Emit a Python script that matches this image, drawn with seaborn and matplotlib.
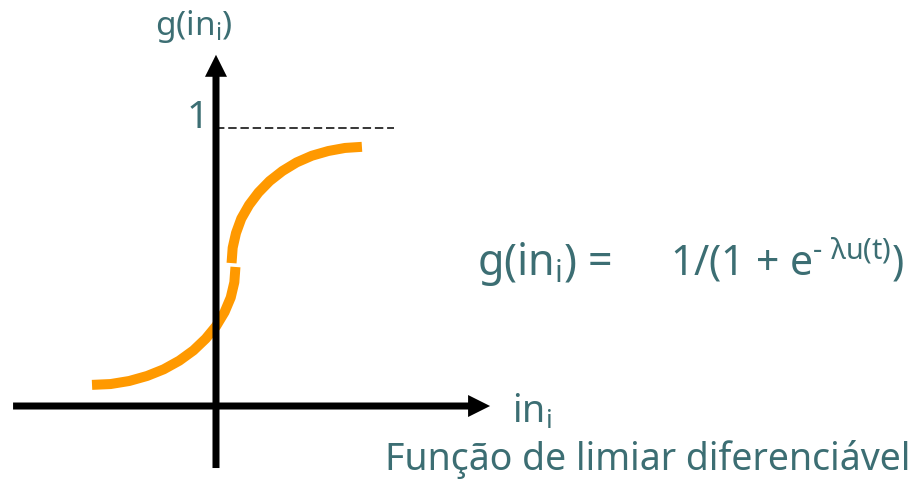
import matplotlib
matplotlib.use('Agg')
import matplotlib.pyplot as plt
import seaborn as sns
import pandas as pd

# curva (due archi); 1 = livello tratteggiato
lower_x = [-0.446, -0.379, -0.312, -0.248, -0.188, -0.132, -0.081,
           -0.037, 0.001, 0.031, 0.053, 0.066, 0.070]
lower_y = [0.076, 0.079, 0.090, 0.108, 0.132, 0.163, 0.200,
           0.242, 0.288, 0.338, 0.390, 0.445, 0.500]
upper_x = [0.056, 0.060, 0.072, 0.091, 0.119, 0.153, 0.193,
           0.239, 0.290, 0.345, 0.404, 0.464, 0.525]
upper_y = [0.514, 0.569, 0.622, 0.674, 0.723, 0.768, 0.809,
           0.845, 0.876, 0.900, 0.917, 0.928, 0.932]

# assi e linea del valore 1
x_axis = [-0.730, 0.986]
y_axis = [-0.223, 1.263]
level_one = 1.0
level_end = 0.640

text_color = '#3c6e73'
curve_color = '#ff9900'

sns.set_theme(style='white')
plt.rcParams['font.family'] = ['Noto Sans', 'DejaVu Sans']
plt.rcParams['mathtext.fontset'] = 'custom'
plt.rcParams['mathtext.rm'] = 'Noto Sans'
plt.rcParams['mathtext.it'] = 'Noto Sans:italic'

fig = plt.figure(figsize=(9.19, 4.95), dpi=100)
ax = fig.add_axes([0, 0, 1, 1])
ax.set_xlim(-0.777, 2.529)
ax.set_ylim(-0.320, 1.460)
ax.axis('off')

low = pd.DataFrame({'x': lower_x, 'y': lower_y})
up = pd.DataFrame({'x': upper_x, 'y': upper_y})
for arc in [low, up]:
    sns.lineplot(data=arc, x='x', y='y', sort=False, estimator=None, color=curve_color,
                 lw=7.2, solid_capstyle='butt', solid_joinstyle='round', ax=ax)

# frecce degli assi
w = 7 / 278
hw = 22 / 278
hl = 22 / 278
ax.arrow(x_axis[0], 0, x_axis[1] - x_axis[0], 0, width=w, head_width=hw, head_length=hl,
         length_includes_head=True, color='black', lw=0, zorder=3)
ax.arrow(0, y_axis[0], 0, y_axis[1] - y_axis[0], width=w, head_width=hw, head_length=hl,
         length_includes_head=True, color='black', lw=0, zorder=3)

ax.plot([0, level_end], [level_one, level_one], color='black', lw=1.1,
        dashes=(5.5, 2.5))

# testi
ax.text(-0.219, 1.335, r'g(in$_\mathrm{i}$)', fontsize=24, color=text_color,
        ha='left', va='baseline')
ax.text(-0.025, level_one, '1', fontsize=28, color=text_color, ha='right', va='baseline')
ax.text(1.065, -0.061, r'in$_\mathrm{i}$', fontsize=27, color=text_color,
        ha='left', va='baseline')
ax.text(0.939, 0.471, r'g(in$_\mathrm{i}$) =', fontsize=31, color=text_color,
        ha='left', va='baseline')
ax.text(1.633, 0.471, r'1/(1 + e$^{\mathrm{‐\ λu(t)}}$)', fontsize=29.5, color=text_color,
        ha='left', va='baseline')
ax.text(0.608, -0.230, 'Função de limiar diferenciável', fontsize=27, color=text_color,
        ha='left', va='baseline')

fig.savefig('out.png', dpi=100)
